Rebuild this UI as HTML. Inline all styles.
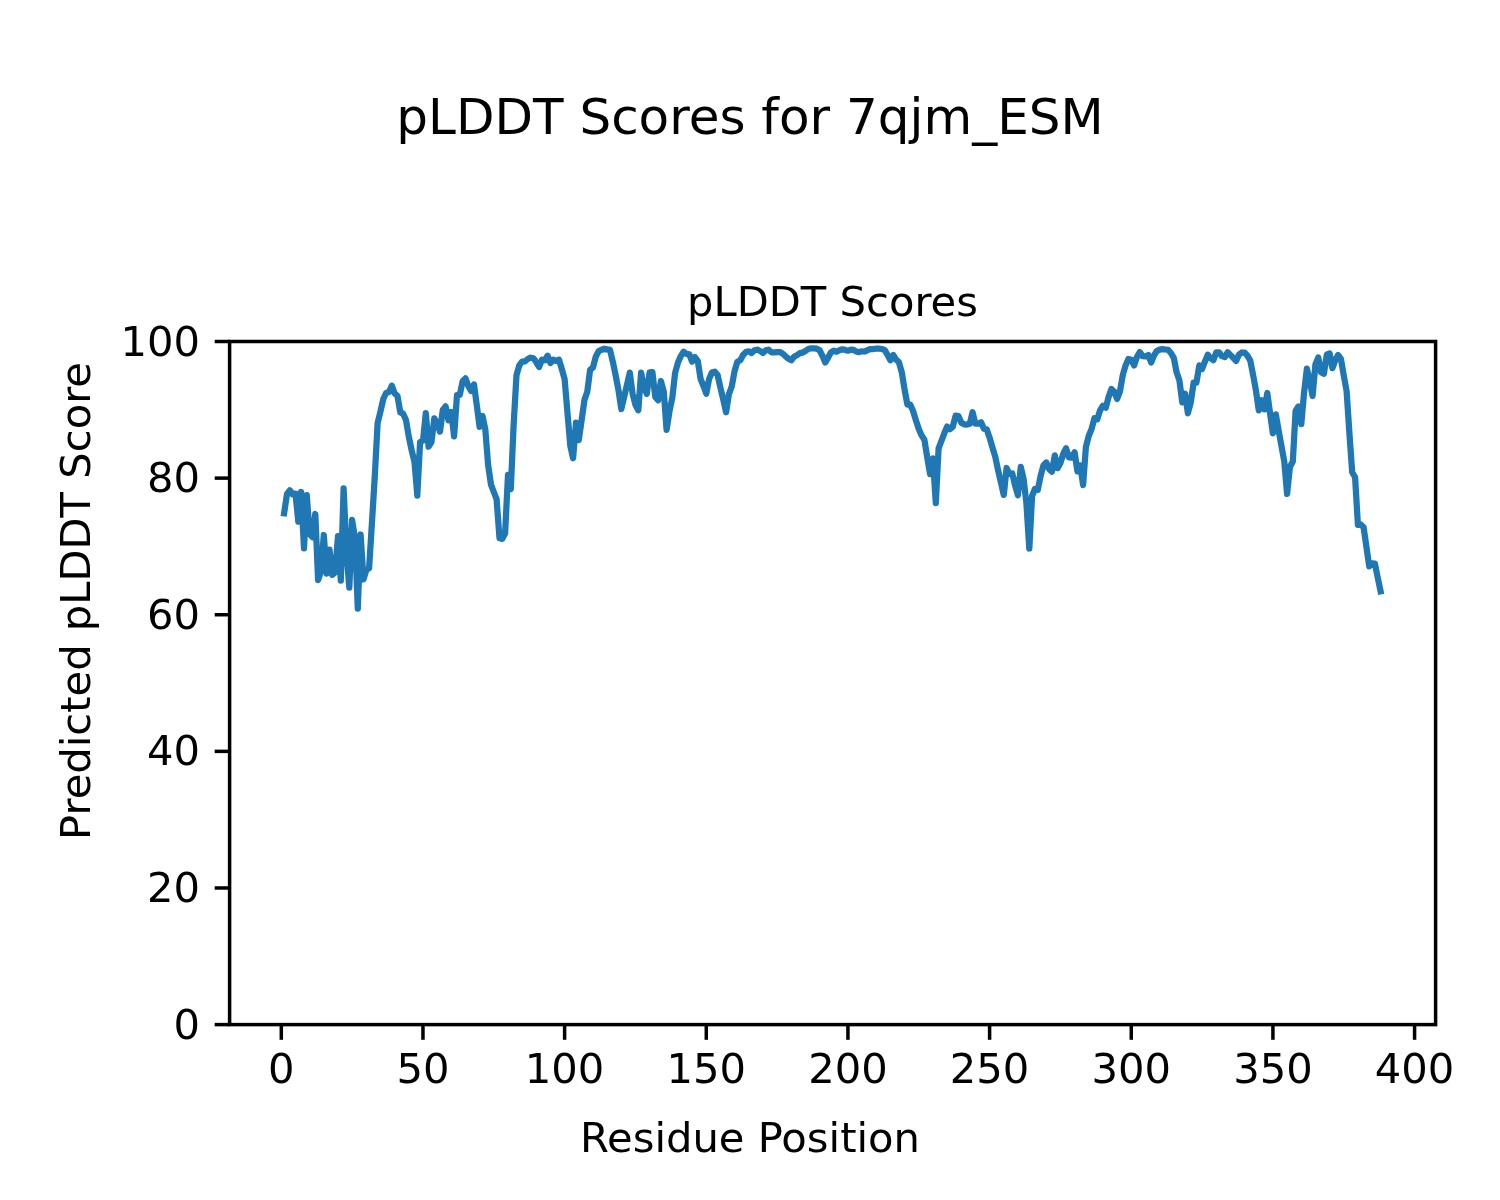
<!DOCTYPE html>
<html><head><meta charset="utf-8"><title>pLDDT Scores for 7qjm_ESM</title>
<style>
html,body{margin:0;padding:0;background:#fff;}
body{width:1500px;height:1200px;overflow:hidden;}
svg{display:block;}
text{font-family:"DejaVu Sans","Liberation Sans",sans-serif;fill:#000;}
</style></head><body>
<svg width="1500" height="1200" viewBox="0 0 1500 1200">
<rect width="1500" height="1200" fill="#ffffff"/>
<text x="750" y="133.5" font-size="50" text-anchor="middle">pLDDT Scores for 7qjm_ESM</text>
<text x="832.5" y="316" font-size="41.67" text-anchor="middle">pLDDT Scores</text>
<polyline points="284.1,513.3 287.0,494.0 289.8,490.4 292.6,494.4 295.5,493.6 298.3,521.6 301.1,492.0 304.0,548.3 306.8,495.2 309.6,534.0 312.5,537.1 315.3,514.0 318.1,580.1 321.0,571.2 323.8,535.0 326.6,573.6 329.5,549.6 332.3,574.8 335.1,572.4 338.0,536.2 340.8,580.6 343.6,488.4 346.5,552.3 349.3,587.6 352.1,519.9 355.0,538.3 357.8,608.6 360.6,534.5 363.5,579.5 366.3,569.8 369.1,568.3 372.0,522.0 374.8,476.0 377.6,423.3 380.5,411.3 383.3,399.0 386.1,393.0 389.0,392.0 391.8,385.7 394.6,393.3 397.5,396.0 400.3,412.4 403.1,413.7 406.0,420.0 408.8,436.7 411.6,450.0 414.5,462.0 417.3,495.6 420.1,442.0 423.0,440.7 425.8,413.1 428.6,446.7 431.5,442.0 434.3,418.4 437.1,423.3 440.0,431.6 442.8,410.0 445.6,406.4 448.5,420.3 451.3,412.0 454.1,436.3 457.0,395.1 459.8,394.9 462.6,381.3 465.5,378.4 468.3,386.0 471.1,391.1 474.0,384.4 476.8,405.3 479.6,426.9 482.5,416.0 485.3,429.3 488.1,464.7 491.0,484.7 493.8,492.0 496.6,499.2 499.5,538.3 502.3,538.9 505.1,533.3 508.0,474.9 510.8,489.1 513.6,425.7 516.5,375.0 519.3,365.4 522.1,361.7 525.0,361.4 527.8,359.0 530.6,357.7 533.5,358.3 536.3,362.3 539.1,367.0 542.0,359.7 544.8,360.3 547.6,355.7 550.5,363.0 553.3,359.7 556.1,361.0 559.0,359.7 561.8,369.0 564.6,379.0 567.5,413.0 570.3,445.7 573.1,458.3 576.0,422.7 578.8,440.1 581.6,420.3 584.5,399.7 587.3,391.7 590.1,369.9 593.0,367.4 595.8,356.6 598.6,351.3 601.5,349.7 604.3,348.7 607.1,349.4 610.0,349.9 612.8,361.7 615.6,375.0 618.5,390.3 621.3,409.0 624.1,397.0 627.0,384.7 629.8,372.6 632.6,393.7 635.5,405.0 638.3,410.3 641.1,372.6 643.9,387.0 646.8,393.9 649.6,372.3 652.4,372.1 655.3,397.0 658.1,400.3 660.9,381.0 663.8,391.7 666.6,429.8 669.4,411.7 672.3,397.9 675.1,373.0 677.9,362.7 680.8,356.1 683.6,351.7 686.4,353.9 689.3,354.3 692.1,361.7 694.9,357.0 697.8,361.0 700.6,379.0 703.4,385.7 706.3,393.7 709.1,379.0 711.9,372.6 714.8,371.7 717.6,375.0 720.4,387.7 723.3,399.7 726.1,412.3 728.9,394.3 731.8,386.3 734.6,371.0 737.4,361.7 740.3,360.3 743.1,355.0 745.9,352.1 748.8,351.3 751.6,353.0 754.4,350.3 757.3,349.7 760.1,351.0 762.9,353.0 765.8,350.3 768.6,349.7 771.4,352.3 774.3,352.3 777.1,352.1 779.9,352.1 782.8,353.7 785.6,356.3 788.4,358.7 791.3,360.2 794.1,356.7 796.9,355.3 799.8,353.2 802.6,352.7 805.4,351.0 808.3,349.0 811.1,348.3 813.9,348.3 816.8,348.7 819.6,350.3 822.4,355.7 825.3,362.4 828.1,357.6 830.9,352.5 833.8,350.7 836.6,351.7 839.4,350.3 842.3,349.3 845.1,349.9 847.9,350.7 850.8,349.7 853.6,349.9 856.4,351.7 859.3,352.1 862.1,351.3 864.9,351.5 867.8,349.9 870.6,349.0 873.4,349.0 876.3,348.7 879.1,348.7 881.9,349.0 884.8,350.1 887.6,355.0 890.4,360.3 893.3,355.0 896.1,359.7 898.9,362.1 901.8,372.3 904.6,389.7 907.4,404.6 910.3,404.7 913.1,411.0 915.9,420.3 918.8,429.0 921.6,435.4 924.4,439.7 927.3,457.7 930.1,474.1 932.9,458.3 935.8,503.0 938.6,448.3 941.4,441.0 944.3,433.3 947.1,426.6 949.9,429.3 952.8,426.6 955.6,415.7 958.4,416.1 961.3,422.7 964.1,424.3 966.9,424.6 969.8,423.7 972.6,412.2 975.4,423.7 978.3,423.7 981.1,422.3 983.9,428.7 986.8,429.4 989.6,437.7 992.4,447.4 995.3,456.8 998.1,470.3 1000.9,482.3 1003.8,495.0 1006.6,468.0 1009.4,473.8 1012.3,473.5 1015.1,485.5 1017.9,495.2 1020.8,466.9 1023.6,479.1 1026.4,503.0 1029.3,548.5 1032.1,496.0 1034.9,489.0 1037.8,489.8 1040.6,476.0 1043.4,465.5 1046.3,462.5 1049.1,469.0 1051.9,471.6 1054.8,455.4 1057.6,468.2 1060.4,463.0 1063.3,453.7 1066.1,448.3 1068.9,457.4 1071.8,457.7 1074.6,452.3 1077.4,471.3 1080.3,465.4 1083.1,485.0 1085.9,447.0 1088.8,435.7 1091.6,429.0 1094.4,418.3 1097.3,419.3 1100.1,410.3 1102.9,405.7 1105.8,407.7 1108.6,397.0 1111.4,389.0 1114.3,391.7 1117.1,399.0 1119.9,391.7 1122.8,375.0 1125.6,365.4 1128.4,359.0 1131.3,359.7 1134.1,365.4 1136.9,357.0 1139.8,352.1 1142.6,356.1 1145.4,356.3 1148.3,355.0 1151.1,362.5 1153.9,355.7 1156.8,351.0 1159.6,349.6 1162.4,349.2 1165.3,349.5 1168.1,349.9 1170.9,353.0 1173.8,357.9 1176.6,372.3 1179.4,380.3 1182.3,402.3 1185.1,393.7 1187.9,413.3 1190.8,402.3 1193.6,382.7 1196.4,382.7 1199.3,365.4 1202.1,369.0 1204.9,361.7 1207.8,354.7 1210.6,358.3 1213.4,360.3 1216.3,352.3 1219.1,352.3 1221.9,356.1 1224.8,357.1 1227.6,352.3 1230.4,355.0 1233.3,357.9 1236.1,361.0 1238.9,354.7 1241.8,352.5 1244.6,352.6 1247.4,355.7 1250.3,360.6 1253.1,375.0 1255.9,390.3 1258.8,410.3 1261.6,400.3 1264.4,409.4 1267.3,393.0 1270.1,413.7 1272.9,433.3 1275.8,414.4 1278.6,430.3 1281.4,445.7 1284.3,461.5 1287.1,493.9 1289.9,467.0 1292.8,461.5 1295.6,411.0 1298.4,406.5 1301.3,424.2 1304.1,392.3 1306.9,368.6 1309.8,381.0 1312.6,396.0 1315.4,364.5 1318.3,357.5 1321.1,372.3 1323.9,373.8 1326.8,354.6 1329.6,353.4 1332.4,368.2 1335.3,360.1 1338.1,355.1 1340.9,358.9 1343.8,375.8 1346.6,391.0 1349.4,433.0 1352.2,472.3 1355.1,477.3 1357.9,524.9 1360.7,524.4 1363.6,527.3 1366.4,546.8 1369.2,566.3 1372.1,563.3 1374.9,563.7 1377.7,577.5 1380.6,591.3" fill="none" stroke="#1f77b4" stroke-width="6.25" stroke-linejoin="round" stroke-linecap="square"/>
<rect x="229.6" y="341.5" width="1206.0" height="683.0999999999999" fill="none" stroke="#000" stroke-width="3.5" stroke-linejoin="miter"/>
<line x1="281.30" y1="1024.6" x2="281.30" y2="1039.80" stroke="#000" stroke-width="3.5"/>
<text x="281.30" y="1082.9" font-size="41.67" text-anchor="middle">0</text>
<line x1="422.96" y1="1024.6" x2="422.96" y2="1039.80" stroke="#000" stroke-width="3.5"/>
<text x="422.96" y="1082.9" font-size="41.67" text-anchor="middle">50</text>
<line x1="564.62" y1="1024.6" x2="564.62" y2="1039.80" stroke="#000" stroke-width="3.5"/>
<text x="564.62" y="1082.9" font-size="41.67" text-anchor="middle">100</text>
<line x1="706.28" y1="1024.6" x2="706.28" y2="1039.80" stroke="#000" stroke-width="3.5"/>
<text x="706.28" y="1082.9" font-size="41.67" text-anchor="middle">150</text>
<line x1="847.94" y1="1024.6" x2="847.94" y2="1039.80" stroke="#000" stroke-width="3.5"/>
<text x="847.94" y="1082.9" font-size="41.67" text-anchor="middle">200</text>
<line x1="989.60" y1="1024.6" x2="989.60" y2="1039.80" stroke="#000" stroke-width="3.5"/>
<text x="989.60" y="1082.9" font-size="41.67" text-anchor="middle">250</text>
<line x1="1131.26" y1="1024.6" x2="1131.26" y2="1039.80" stroke="#000" stroke-width="3.5"/>
<text x="1131.26" y="1082.9" font-size="41.67" text-anchor="middle">300</text>
<line x1="1272.92" y1="1024.6" x2="1272.92" y2="1039.80" stroke="#000" stroke-width="3.5"/>
<text x="1272.92" y="1082.9" font-size="41.67" text-anchor="middle">350</text>
<line x1="1414.58" y1="1024.6" x2="1414.58" y2="1039.80" stroke="#000" stroke-width="3.5"/>
<text x="1414.58" y="1082.9" font-size="41.67" text-anchor="middle">400</text>
<line x1="229.6" y1="1024.60" x2="214.70" y2="1024.60" stroke="#000" stroke-width="3.5"/>
<text x="200" y="1038.70" font-size="41.67" text-anchor="end">0</text>
<line x1="229.6" y1="887.98" x2="214.70" y2="887.98" stroke="#000" stroke-width="3.5"/>
<text x="200" y="902.08" font-size="41.67" text-anchor="end">20</text>
<line x1="229.6" y1="751.36" x2="214.70" y2="751.36" stroke="#000" stroke-width="3.5"/>
<text x="200" y="765.46" font-size="41.67" text-anchor="end">40</text>
<line x1="229.6" y1="614.74" x2="214.70" y2="614.74" stroke="#000" stroke-width="3.5"/>
<text x="200" y="628.84" font-size="41.67" text-anchor="end">60</text>
<line x1="229.6" y1="478.12" x2="214.70" y2="478.12" stroke="#000" stroke-width="3.5"/>
<text x="200" y="492.22" font-size="41.67" text-anchor="end">80</text>
<line x1="229.6" y1="341.50" x2="214.70" y2="341.50" stroke="#000" stroke-width="3.5"/>
<text x="200" y="355.60" font-size="41.67" text-anchor="end">100</text>
<text x="750" y="1151.5" font-size="41.67" text-anchor="middle">Residue Position</text>
<text transform="translate(89.5,601) rotate(-90)" font-size="41.67" text-anchor="middle">Predicted pLDDT Score</text>
</svg>
</body></html>
